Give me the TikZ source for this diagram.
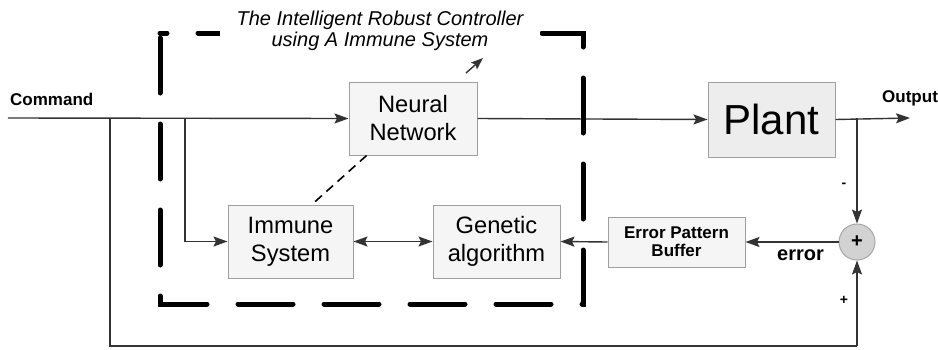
\documentclass[tikz,border=0pt]{standalone}
\usepackage{fontspec}
\setmainfont{Liberation Sans}
\usetikzlibrary{arrows.meta,calc}
\begin{document}
\begin{tikzpicture}[x=1pt,y=-1pt,
  blk/.style={draw=gray!75, line width=1pt, fill=gray!8, inner sep=0pt, align=center,
    font=\fontsize{23.7}{28}\selectfont},
  conn/.style={draw=black!80, line width=1.4pt},
  arr/.style={conn, -{Stealth[length=14pt,width=10pt,inset=2.5pt]}},
  darr/.style={conn, {Stealth[length=14pt,width=10pt,inset=2.5pt]}-{Stealth[length=14pt,width=10pt,inset=2.5pt]}},
  lbl/.style={inner sep=0pt, font=\bfseries\fontsize{17}{18}\selectfont},
  bigdash/.style={line width=5pt, line cap=round, dash pattern=on 55pt off 31pt, dash phase=81pt},
  thindash/.style={draw=black, line width=1.6pt, dash pattern=on 9pt off 6pt}]
\useasboundingbox[fill=white] (0,0) rectangle (938,349);

% blocks
\node[blk, minimum width=128, minimum height=73] (nn) at (413,118.5) {Neural\\Network};
\node[blk, minimum width=127, minimum height=75, fill=gray!14,
  font=\fontsize{42}{44}\selectfont] (plant) at (771.5,119.5) {Plant};
\node[blk, minimum width=125, minimum height=73] (is) at (290.5,241.5) {Immune\\System};
\node[blk, minimum width=127, minimum height=73] (ga) at (496.5,241.5) {Genetic\\algorithm};
\node[blk, minimum width=137, minimum height=50,
  font=\bfseries\fontsize{17}{18}\selectfont] (epb) at (676.5,242) {Error Pattern\\Buffer};
\node[circle, draw=gray!70, line width=1pt, fill=gray!35, minimum size=36, inner sep=0pt,
  font=\bfseries\fontsize{20}{20}\selectfont] (sum) at (857,242) {+};

% labels
\node[lbl, anchor=base west] (cmdtxt) at (10,105) {Command};
\node[lbl, anchor=base west] (outtxt) at (882,102) {Output};
\node[lbl, anchor=base west, font=\bfseries\fontsize{20}{20}\selectfont] (errtxt) at (777,260) {error};
\node[lbl, font=\bfseries\fontsize{14}{14}\selectfont] (minus) at (844,185) {-};
\node[lbl, font=\bfseries\fontsize{14}{14}\selectfont] (plus) at (844,300) {+};

% coordinates
\coordinate (cin) at (8,118);
\coordinate (b1) at (110,118);
\coordinate (b2) at (185,118);
\coordinate (ob) at (857,118);
\coordinate (oend) at (910,118);
\coordinate (fbl) at (110,346);
\coordinate (fbr) at (857,346);

% connectors
\draw[arr] (cin) -- (nn.west);
\draw[arr] (nn.east) -- (plant.west);
\draw[arr] (plant.east) -- (oend);
\draw[arr] (ob) -- (sum.north);
\draw[arr] (sum.west) -- (epb.east);
\draw[arr] (epb.west) -- (ga.east);
\draw[darr] (is.east) -- (ga.west);
\draw[arr] (b2) |- (is.west);
\draw[conn] (b1) -- (fbl) -- (fbr);
\draw[arr] (fbr) -- (sum.south);
\draw[thindash] ($(nn.south west)!0.14!(nn.south east)$) -- ($(is.north west)!0.67!(is.north east)$);

% controller boundary
\draw[bigdash] (160,33) -- (160,304) -- (583,304) -- (583,33) -- (160,33);

% title
\node[fill=white, inner xsep=17pt, inner ysep=2pt, align=center,
  font=\itshape\fontsize{20}{21}\selectfont] (title) at (380,30.5)
  {The Intelligent Robust Controller\\using A Immune System};
\coordinate (ta1) at (466,73);
\coordinate (ta2) at (483,58);
\draw[conn, -{Stealth[length=12pt,width=9pt,inset=2pt]}] (ta1) -- (ta2);
\end{tikzpicture}
\end{document}
